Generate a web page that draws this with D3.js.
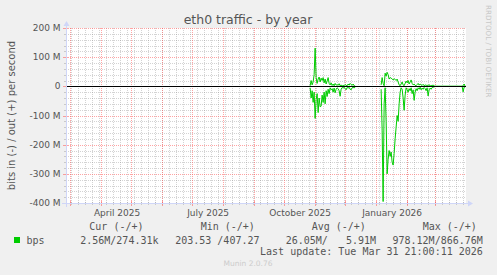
<!DOCTYPE html>
<html><head><meta charset="utf-8">
<script src="https://cdn.jsdelivr.net/npm/d3@7"></script>
<style>
html,body{margin:0;padding:0;background:#F0F0F0;}
svg{display:block;}
</style></head><body>
<svg id="c" width="497" height="275"></svg>
<script>
// ---------------- data ----------------
const title = "eth0 traffic - by year";
const yAxisTitle = "bits in (-) / out (+) per second";
const yTickValues = [200e6, 100e6, 0, -100e6, -200e6, -300e6, -400e6];
const yTickLabels = ["200 M", "100 M", "0", "-100 M", "-200 M", "-300 M", "-400 M"];
const xTickDates = ["2025-04-01", "2025-07-01", "2025-10-01", "2026-01-01"];
const xTickLabels = ["April 2025", "July 2025", "October 2025", "January 2026"];

// daily values in Mbit/s, segment 1 starts 2025-10-27, segment 2 starts 2026-01-06
const seg1Start = "2025-10-27";
const outSeg1 = [2,20,5,15,40,131,30,10,25,32,15,28,20,30,12,25,8,18,30,10,5,12,3,8,2,10,4,6,3,9,2,5,1,3,2,6,3,2,8,4,10,6,3,8,2,1];
const inSeg1  = [5,40,15,55,20,110,45,25,90,40,70,68,30,55,20,60,15,35,10,25,5,12,8,20,6,22,10,5,8,15,34,10,4,6,3,8,12,4,6,3,10,12,5,3,6,2];
const seg2Start = "2026-01-06";
const outSeg2 = [5,30,10,2,45,35,48,40,25,30,28,25,22,26,24,20,25,15,5,2,8,15,5,2,10,18,12,20,8,15,22,10,5,8,3,2,6,10,4,8,5,3,7,2,5,3,4,2,6,1,3,2,5,1,
  0.4,0.3,0.5,0.3,0.4,0.3,0.3,0.5,0.4,0.3,0.4,0.3,0.5,0.3,0.4,0.3,0.3,0.4,0.5,0.3,0.4,0.3,0.3,0.4,0.3,0.5,0.3,0.4,
  2,8,0.27];
const inSeg2  = [10,150,395,60,5,120,300,250,220,240,225,260,270,230,180,140,100,120,60,20,5,10,40,82,30,5,12,20,8,15,5,25,12,48,20,8,15,5,10,3,12,6,10,4,8,15,5,33,12,6,10,4,3,2,
  0.4,0.3,0.5,0.3,0.4,0.3,0.3,0.5,0.4,0.3,0.4,0.3,0.5,0.3,0.4,0.3,0.3,0.4,0.5,0.3,0.4,0.3,0.3,0.4,0.3,0.5,0.3,0.4,
  19,2.6,2.56];

const legendName = "bps";
const legendHeaders = ["Cur (-/+)", "Min (-/+)", "Avg (-/+)", "Max (-/+)"];
const legendValues = ["2.56M/274.31k", "203.53 /407.27", "26.05M/   5.91M", "978.12M/866.76M"];
const lastUpdate = "Last update: Tue Mar 31 21:00:11 2026";
const muninVersion = "Munin 2.0.76";
const watermark = "RRDTOOL / TOBI OETIKER";

// ---------------- build ----------------
function parseDay(s){const p=s.split("-").map(Number);return new Date(p[0],p[1]-1,p[2]);}
function buildSeries(start, vals){
  const d0 = parseDay(start);
  return vals.map((v,i)=>({date:d3.timeDay.offset(d0,i), v:v*1e6}));
}
const gap = {date:parseDay("2025-12-20"), v:null};
const outData = buildSeries(seg1Start,outSeg1).concat([gap], buildSeries(seg2Start,outSeg2));
const inData  = buildSeries(seg1Start,inSeg1).concat([gap], buildSeries(seg2Start,inSeg2)).map(d=>({date:d.date, v:d.v==null?null:-d.v}));

const svg = d3.select("#c");
const X0=66, X1=466, YT=28, YB=203;
const x = d3.scaleTime().domain([new Date(2025,1,24,21,0,0), new Date(2026,2,31,21,0,11)]).range([X0,X1]);
const y = d3.scaleLinear().domain([-400e6,200e6]).range([YB,YT]);
const px = v => Math.round(v)+0.5;

svg.append("rect").attr("width",497).attr("height",275).attr("fill","#F0F0F0");
svg.append("rect").attr("x",X0).attr("y",YT).attr("width",X1-X0).attr("height",YB-YT).attr("fill","#FFFFFF");

const minorCol="rgba(128,128,128,0.35)", majorCol="rgba(255,90,90,0.55)";
const g = svg.append("g");
// horizontal minor grid (every 20M)
const hMinor = d3.range(-400e6, 200e6+1, 20e6).filter(v=>Math.abs(v%100e6)>1);
g.selectAll(".hm").data(hMinor).join("line")
  .attr("x1",X0).attr("x2",X1).attr("y1",d=>px(y(d))).attr("y2",d=>px(y(d)))
  .attr("stroke",minorCol).attr("stroke-dasharray","1,1");
// vertical minor grid (weekly)
const weeks = d3.timeSunday.range(x.domain()[0], x.domain()[1]);
g.selectAll(".vm").data(weeks).join("line")
  .attr("x1",d=>px(x(d))).attr("x2",d=>px(x(d))).attr("y1",YT).attr("y2",YB)
  .attr("stroke",minorCol).attr("stroke-dasharray","1,1");
// minor ticks
g.selectAll(".vmt").data(weeks).join("line")
  .attr("x1",d=>px(x(d))).attr("x2",d=>px(x(d))).attr("y1",YB-1).attr("y2",YB+2)
  .attr("stroke",minorCol);
g.selectAll(".hmt").data(hMinor).join("line")
  .attr("x1",X0-2).attr("x2",X0+1).attr("y1",d=>px(y(d))).attr("y2",d=>px(y(d)))
  .attr("stroke",minorCol);
// major grid
g.selectAll(".hM").data(yTickValues).join("line")
  .attr("x1",X0).attr("x2",X1).attr("y1",d=>px(y(d))).attr("y2",d=>px(y(d)))
  .attr("stroke",majorCol).attr("stroke-dasharray","1,1");
const months = d3.timeMonth.range(x.domain()[0], x.domain()[1]);
g.selectAll(".vM").data(months).join("line")
  .attr("x1",d=>px(x(d))).attr("x2",d=>px(x(d))).attr("y1",YT).attr("y2",YB)
  .attr("stroke",majorCol).attr("stroke-dasharray","1,1");
g.selectAll(".vMt").data(months).join("line")
  .attr("x1",d=>px(x(d))).attr("x2",d=>px(x(d))).attr("y1",YB-2).attr("y2",YB+3)
  .attr("stroke",majorCol);
g.selectAll(".hMt").data(yTickValues).join("line")
  .attr("x1",X0-3).attr("x2",X0+2).attr("y1",d=>px(y(d))).attr("y2",d=>px(y(d)))
  .attr("stroke",majorCol);

// data lines
const line = d3.line().defined(d=>d.v!=null).x(d=>x(d.date)).y(d=>y(d.v));
svg.append("path").datum(inData).attr("d",line).attr("fill","none").attr("stroke","#00CC00").attr("stroke-width",1);
svg.append("path").datum(outData).attr("d",line).attr("fill","none").attr("stroke","#00CC00").attr("stroke-width",1);
// zero rule
svg.append("line").attr("x1",X0).attr("x2",X1).attr("y1",px(y(0))).attr("y2",px(y(0)))
  .attr("stroke","#000").attr("stroke-width",1);

// axes
const axisCol="#CFD6F8";
svg.append("line").attr("x1",X0-4).attr("x2",X1+4).attr("y1",YB+0.5).attr("y2",YB+0.5).attr("stroke",axisCol);
svg.append("line").attr("x1",X0+0.5).attr("x2",X0+0.5).attr("y1",YB+4).attr("y2",YT-4).attr("stroke",axisCol);
svg.append("path").attr("d",`M${X1+2},${YB-2.5} L${X1+2},${YB+3.5} L${X1+7},${YB+0.5} Z`).attr("fill",axisCol);
svg.append("path").attr("d",`M${X0-2.5},${YT-2} L${X0+3.5},${YT-2} L${X0+0.5},${YT-7} Z`).attr("fill",axisCol);

// text
const sans = "DejaVu Sans", mono = "DejaVu Sans Mono", fc="#555555";
svg.append("text").attr("x",248).attr("y",24).attr("text-anchor","middle")
  .attr("font-family",sans).attr("font-size",12.5).attr("fill",fc).text(title);
svg.append("text").attr("transform",`translate(15,${(YT+YB)/2}) rotate(-90)`).attr("text-anchor","middle")
  .attr("font-family",sans).attr("font-size",10).attr("fill",fc).text(yAxisTitle);
svg.selectAll(".yl").data(yTickValues).join("text")
  .attr("x",60.5).attr("y",d=>y(d)).attr("dy","0.35em").attr("text-anchor","end")
  .attr("font-family",sans).attr("font-size",9).attr("fill",fc)
  .text((d,i)=>yTickLabels[i]);
svg.selectAll(".xl").data(xTickDates).join("text")
  .attr("x",d=>x(d3.timeDay.offset(parseDay(d),16))).attr("y",216).attr("text-anchor","middle")
  .attr("font-family",sans).attr("font-size",9).attr("fill",fc)
  .text((d,i)=>xTickLabels[i]);
svg.append("text").attr("transform","translate(486,5) rotate(90)")
  .attr("font-family",sans).attr("font-size",7.2).attr("fill","#C8C8C8").text(watermark);

// legend
svg.append("rect").attr("x",14).attr("y",237).attr("width",6).attr("height",6).attr("fill","#00CC00");
const lt = (t,xx,yy,anchor)=>svg.append("text").attr("x",xx).attr("y",yy).attr("text-anchor",anchor||"start")
  .attr("font-family",mono).attr("font-size",10).attr("fill",fc).attr("xml:space","preserve").style("white-space","pre").text(t);
lt(legendName,26.5,243.5);
const hdrX=[89.3,200.7,311.7,422.7];
legendHeaders.forEach((h,i)=>lt(h,hdrX[i],230.3));
const valEnd=[158.5,259.5,376,482.8];
legendValues.forEach((v,i)=>lt(v,valEnd[i],243.5,"end"));
lt(lastUpdate,482.8,255.2,"end");
svg.append("text").attr("x",248).attr("y",266).attr("text-anchor","middle")
  .attr("font-family",sans).attr("font-size",7.5).attr("fill","#CCCCCC").text(muninVersion);
</script>
</body></html>
